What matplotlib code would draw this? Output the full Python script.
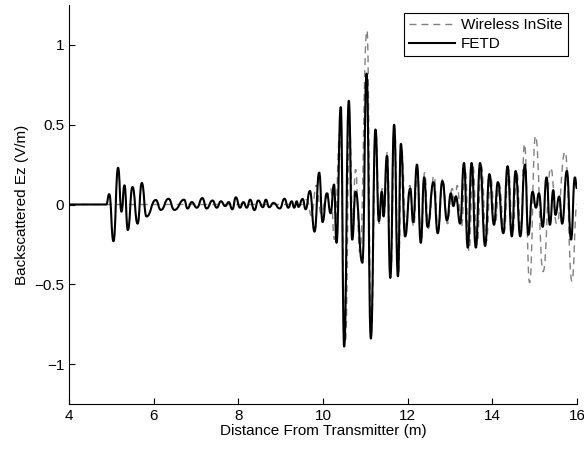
import numpy as np
import matplotlib
matplotlib.use("Agg")
import matplotlib.pyplot as plt
from matplotlib.path import Path
from matplotlib.patches import PathPatch
from matplotlib.lines import Line2D

plt.rcParams['font.family'] = ['Liberation Sans', 'DejaVu Sans']
plt.rcParams['font.size'] = 11

# FETD trace: turning points
fetd_x = [4.00, 4.88, 4.95, 5.05, 5.16, 5.24, 5.31, 5.39, 5.50, 5.62, 5.72, 5.83,
          6.05, 6.17, 6.35, 6.49, 6.72, 6.80, 6.90, 7.02, 7.15, 7.25, 7.39, 7.49,
          7.59, 7.69, 7.77, 7.86, 7.94, 8.04, 8.12, 8.20, 8.28, 8.38, 8.47, 8.58,
          8.65, 8.73, 8.83, 8.98, 9.09, 9.18, 9.26, 9.32, 9.38, 9.42, 9.52, 9.59,
          9.69, 9.80, 9.91, 9.99, 10.09, 10.18, 10.26, 10.32, 10.42, 10.50, 10.61,
          10.69, 10.77, 10.93, 11.03, 11.13, 11.24, 11.32, 11.39, 11.43, 11.51,
          11.59, 11.68, 11.77, 11.84, 11.94, 12.06, 12.13, 12.22, 12.31, 12.39,
          12.47, 12.61, 12.71, 12.82, 12.93, 13.02, 13.08, 13.14, 13.24, 13.33,
          13.42, 13.51, 13.61, 13.71, 13.83, 13.93, 14.04, 14.13, 14.26, 14.36,
          14.46, 14.55, 14.66, 14.77, 14.85, 14.95, 15.03, 15.10, 15.19, 15.28,
          15.36, 15.44, 15.49, 15.58, 15.65, 15.76, 15.86, 15.95, 16.00]
fetd_y = [0.0, 0.0, 0.065, -0.23, 0.23, -0.045, 0.12, -0.16, 0.11, -0.12, 0.135, -0.075,
          0.028, -0.034, 0.036, -0.034, 0.03, -0.025, 0.015, -0.02, 0.04, -0.025, 0.025, -0.02,
          0.02, -0.01, 0.015, -0.03, 0.045, -0.02, 0.015, -0.02, 0.03, -0.035, 0.025, -0.017,
          0.03, -0.017, 0.01, -0.025, 0.036, -0.02, 0.02, -0.02, 0.02, -0.015, 0.035, -0.03,
          0.085, -0.17, 0.2, -0.11, 0.07, -0.055, 0.125, -0.24, 0.61, -0.89, 0.65,
          -0.22, 0.08, -0.365, 0.82, -0.84, 0.47, -0.105, 0.08, -0.075, 0.305,
          -0.46, 0.5, -0.45, 0.38, -0.2, 0.1, -0.11, 0.25, -0.24, 0.17,
          -0.14, 0.14, -0.18, 0.147, -0.1, 0.07, -0.01, 0.05, -0.12, 0.26,
          -0.27, 0.26, -0.27, 0.26, -0.26, 0.19, -0.127, 0.14, -0.18, 0.24,
          -0.2, 0.21, -0.2, 0.25, -0.19, 0.08, -0.02, 0.07, -0.14, 0.17,
          -0.127, 0.09, -0.065, 0.05, -0.12, 0.21, -0.22, 0.17, 0.1]

# Wireless InSite trace
insite_x = [4.00, 9.50, 9.62, 9.73, 9.84, 9.96, 10.07, 10.18, 10.27, 10.40, 10.53,
            10.63, 10.70, 10.77, 10.87, 11.04, 11.14, 11.25, 11.33, 11.40, 11.45,
            11.52, 11.60, 11.69, 11.78, 11.86, 11.96, 12.05, 12.14, 12.23, 12.32,
            12.40, 12.49, 12.62, 12.72, 12.83, 12.94, 13.05, 13.12, 13.17, 13.27,
            13.36, 13.45, 13.54, 13.64, 13.74, 13.86, 13.96, 14.07, 14.16, 14.28,
            14.38, 14.48, 14.58, 14.67, 14.76, 14.88, 15.02, 15.20, 15.38, 15.52,
            15.72, 15.88, 16.00]
insite_y = [0.0, 0.0, 0.03, -0.07, 0.12, -0.06, 0.04, 0.1, -0.22, 0.45, -0.86,
            0.5, -0.1, 0.22, -0.3, 1.09, -0.8, 0.45, -0.12, 0.1, -0.05,
            0.33, -0.44, 0.48, -0.45, 0.33, -0.15, 0.12, -0.14, 0.2, -0.22,
            0.2, -0.15, 0.18, -0.16, 0.16, -0.12, 0.1, 0.0, 0.12, -0.14,
            0.22, -0.29, 0.25, -0.25, 0.24, -0.23, 0.17, -0.12, 0.13, -0.17,
            0.22, -0.18, 0.2, -0.15, 0.38, -0.49, 0.43, -0.42, 0.23, -0.12,
            0.33, -0.48, 0.0]


def wave_path(xs, ys):
    # smooth curve through the turning points (flat tangent at each one)
    verts = [(xs[0], ys[0])]
    codes = [Path.MOVETO]
    for i in range(1, len(xs)):
        xm = (xs[i - 1] + xs[i]) / 2
        verts += [(xm, ys[i - 1]), (xm, ys[i]), (xs[i], ys[i])]
        codes += [Path.CURVE4] * 3
    return Path(verts, codes)


fig = plt.figure(figsize=(5.84, 4.49), dpi=100)
ax = fig.add_axes([69 / 584, 45 / 449, 508 / 584, 399 / 449])

gray_style = dict(color='#808080', lw=1.0, linestyle=(0, (5, 3.6)))
black_style = dict(color='black', lw=1.5)

ax.add_patch(PathPatch(wave_path(insite_x, insite_y), fill=False,
                       edgecolor=gray_style['color'], lw=gray_style['lw'],
                       linestyle=gray_style['linestyle']))
ax.add_patch(PathPatch(wave_path(fetd_x, fetd_y), fill=False,
                       edgecolor='black', lw=1.5, joinstyle='round'))

ax.set_xlim(4, 16)
ax.set_ylim(-1.25, 1.25)
ax.set_xticks([4, 6, 8, 10, 12, 14, 16])
ax.set_yticks([-1, -0.5, 0, 0.5, 1])
ax.set_yticklabels(['\u22121', '\u22120.5', '0', '0.5', '1'])
ax.spines['top'].set_visible(False)
ax.spines['right'].set_visible(False)
ax.tick_params(direction='in', length=4.5, width=0.8)
ax.set_xlabel('Distance From Transmitter (m)', labelpad=1)
ax.set_ylabel('Backscattered Ez (V/m)')

handles = [Line2D([], [], **gray_style), Line2D([], [], **black_style)]
leg = ax.legend(handles, ['Wireless InSite', 'FETD'], loc='upper right',
                bbox_to_anchor=(0.982, 0.98), borderaxespad=0,
                fancybox=False, framealpha=1, edgecolor='black', handlelength=3.0,
                handletextpad=0.4, labelspacing=0.3, borderpad=0.35)
leg.get_frame().set_linewidth(0.8)

fig.savefig('out.png', dpi=100)
